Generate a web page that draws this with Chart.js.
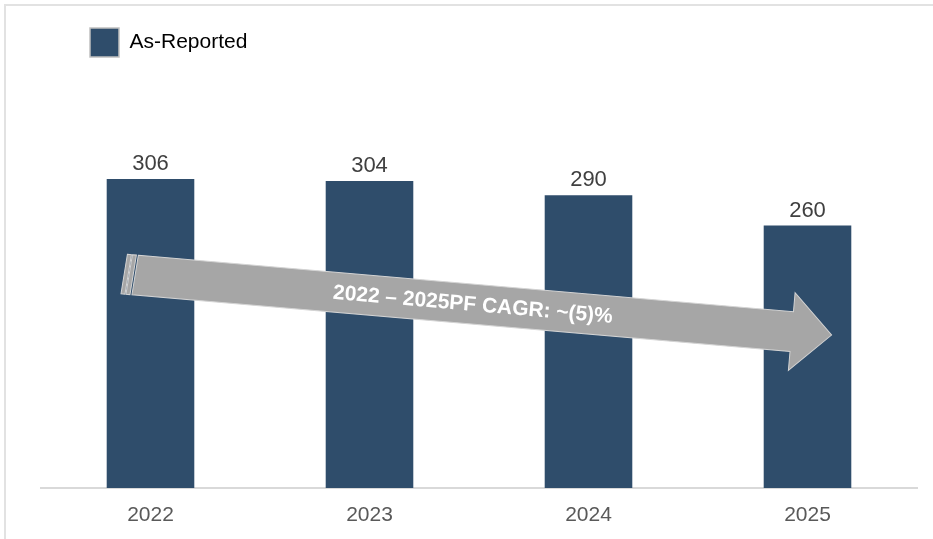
<!DOCTYPE html>
<html>
<head>
<meta charset="utf-8">
<script src="https://cdn.jsdelivr.net/npm/chart.js@4.4.0/dist/chart.umd.min.js"></script>
<style>
  body { margin: 0; background: #fff; }
  #wrap { position: relative; width: 933px; height: 539px; overflow: hidden; }
  #frame { position: absolute; left: 4px; top: 4px; right: -4px; bottom: -4px;
           border-left: 2px solid #e2e2e2; border-top: 2px solid #e2e2e2; }
  #chart { position: absolute; left: 0; top: 0; }
</style>
</head>
<body>
<div id="wrap">
  <div id="frame"></div>
  <canvas id="chart" width="933" height="539"></canvas>
</div>
<script>
const years = ['2022', '2023', '2024', '2025'];
const asReported = [306, 304, 290, 260];
const seriesName = 'As-Reported';
const cagrLabel = '2022 – 2025PF CAGR: ~(5)%';

const barColor = '#2f4d6b';
const fontFamily = 'Arial, "Liberation Sans", sans-serif';

// value labels above the bars
const valueLabels = {
  id: 'valueLabels',
  afterDatasetsDraw(chart) {
    const ctx = chart.ctx;
    const meta = chart.getDatasetMeta(0);
    ctx.save();
    ctx.font = '22px ' + fontFamily;
    ctx.fillStyle = '#404040';
    ctx.textAlign = 'center';
    ctx.textBaseline = 'alphabetic';
    meta.data.forEach((bar, i) => {
      ctx.fillText(chart.data.datasets[0].data[i], bar.x, bar.y - 9);
    });
    ctx.restore();
  }
};

// the big grey trend arrow, anchored in axis units
const trendArrow = {
  id: 'trendArrow',
  afterDatasetsDraw(chart, args, opts) {
    const xs = chart.scales.x, ys = chart.scales.y;
    const x0 = xs.getPixelForValue(opts.from[0]), y0 = ys.getPixelForValue(opts.from[1]);
    const x1 = xs.getPixelForValue(opts.to[0]), y1 = ys.getPixelForValue(opts.to[1]);
    const len = Math.hypot(x1 - x0, y1 - y0);
    const ang = Math.atan2(y1 - y0, x1 - x0);
    const hw = 20, headW = 39, headL = 40;
    const ctx = chart.ctx;
    ctx.save();
    ctx.translate(x0, y0);
    ctx.rotate(ang);
    ctx.fillStyle = '#a6a6a6';
    ctx.strokeStyle = '#d4d4d4';
    ctx.lineWidth = 1;
    // little stripes at the tail
    [[-11, -7], [-6, -2]].forEach(([a, b]) => {
      ctx.beginPath();
      ctx.moveTo(a + 1.5, -hw);
      ctx.lineTo(b + 1.5, -hw);
      ctx.lineTo(b - 1.5, hw);
      ctx.lineTo(a - 1.5, hw);
      ctx.closePath();
      ctx.fill();
      ctx.stroke();
    });
    ctx.beginPath();
    ctx.moveTo(1.5, -hw);
    ctx.lineTo(len - headL, -hw);
    ctx.lineTo(len - headL, -headW);
    ctx.lineTo(len, 0);
    ctx.lineTo(len - headL, headW);
    ctx.lineTo(len - headL, hw);
    ctx.lineTo(-1.5, hw);
    ctx.closePath();
    ctx.fill();
    ctx.stroke();
    ctx.fillStyle = '#ffffff';
    ctx.font = 'bold 21px ' + fontFamily;
    ctx.textAlign = 'center';
    ctx.textBaseline = 'middle';
    ctx.fillText(opts.text, len * 0.485, 1);
    ctx.restore();
  }
};

// move the legend to the right a bit, like the original
const legendShift = {
  id: 'legendShift',
  afterLayout(chart) {
    chart.legend.left += 39;
    chart.legend.right += 39;
  }
};

new Chart(document.getElementById('chart'), {
  type: 'bar',
  data: {
    labels: years,
    datasets: [{
      label: seriesName,
      data: asReported,
      backgroundColor: barColor,
      borderWidth: 0,
      categoryPercentage: 1,
      barPercentage: 0.4
    }]
  },
  options: {
    responsive: false,
    animation: false,
    layout: { padding: { left: 41, right: 16, top: 18, bottom: 0 } },
    scales: {
      x: {
        grid: { display: false, drawTicks: false },
        border: { display: true, color: '#d9d9d9', width: 2 },
        ticks: { color: '#595959', font: { family: fontFamily, size: 21 }, padding: 15 },
        afterFit(scale) { scale.height = 51; }
      },
      y: { display: false, min: 0, max: 417 }
    },
    plugins: {
      tooltip: { enabled: false },
      legend: {
        position: 'top',
        align: 'start',
        labels: {
          boxWidth: 29,
          boxHeight: 29,
          padding: 10,
          color: '#000',
          font: { family: fontFamily, size: 21 },
          generateLabels(chart) {
            const items = Chart.defaults.plugins.legend.labels.generateLabels(chart);
            items.forEach(it => { it.strokeStyle = '#c0c0c0'; it.lineWidth = 1.5; });
            return items;
          }
        }
      },
      trendArrow: { from: [-0.07, 211], to: [3.11, 151.5], text: cagrLabel }
    }
  },
  plugins: [valueLabels, trendArrow, legendShift]
});
</script>
</body>
</html>
